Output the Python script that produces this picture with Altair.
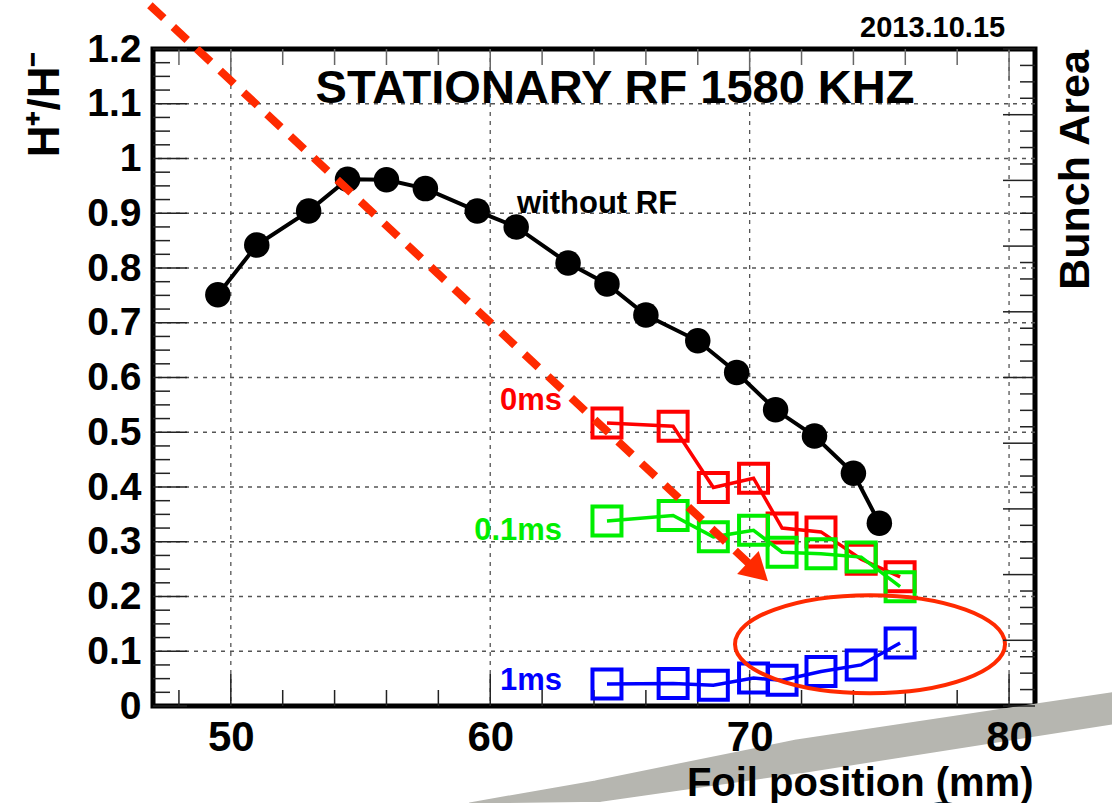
import altair as alt
import pandas as pd

# ---------------- data ----------------
# black "without RF"
x_norf = [49.5, 51.0, 53.0, 54.5, 56.0, 57.5, 59.5, 61.0, 63.0, 64.5, 66.0, 68.0, 69.5, 71.0, 72.5, 74.0, 75.0]
y_norf = [0.751, 0.842, 0.904, 0.962, 0.961, 0.945, 0.904, 0.875, 0.809, 0.771, 0.714, 0.667, 0.609, 0.541, 0.493, 0.425, 0.334]

# square series (same foil positions)
x_sq = [64.5, 67.05, 68.6, 70.15, 71.25, 72.75, 74.3, 75.8]
y_0ms = [0.517, 0.511, 0.399, 0.416, 0.325, 0.318, 0.268, 0.236]
y_01ms = [0.338, 0.348, 0.309, 0.321, 0.281, 0.278, 0.272, 0.218]
y_1ms = [0.040, 0.041, 0.038, 0.051, 0.047, 0.063, 0.075, 0.115]

# axes
x_major = [50, 60, 70, 80]
x_minor = [48, 52, 54, 56, 58, 62, 64, 66, 68, 72, 74, 76, 78]
y_major = [0, 0.1, 0.2, 0.3, 0.4, 0.5, 0.6, 0.7, 0.8, 0.9, 1.0, 1.1, 1.2]
y_grid = [0.1, 0.2, 0.3, 0.4, 0.5, 0.6, 0.7, 0.8, 0.9, 1.0, 1.1]
y_minor = [round(i * 0.025, 3) for i in range(49) if i % 4]
bunch_major = list(range(0, 11))
bunch_minor = [i * 0.25 for i in range(41) if i % 4]

# annotations
arrow_x = [46.88, 70.32]
arrow_y = [1.280, 0.245]
ellipse_x = [74.64]
ellipse_y = [0.113]
band_x = [59.2, 64.2, 71.9, 84.0]
band_y = [-0.177, -0.155, -0.092, -0.004]
band_w = [1, 22, 34, 32]

W, H = 882, 657
FONT = "Liberation Sans"
RED_ANN = "#ff2a00"

xs = alt.Scale(domain=[47, 81], nice=False, zero=False)
ys = alt.Scale(domain=[0, 1.2], nice=False, zero=False)

X = lambda f="x": alt.X(f"{f}:Q", scale=xs)
Y = lambda f="y": alt.Y(f"{f}:Q", scale=ys)

def df(**kw):
    return pd.DataFrame(kw)

# background swoosh (slide decoration)
band = alt.Chart(df(x=band_x, y=band_y, w=band_w)).mark_trail(color="#b6b6b0", clip=False).encode(
    x=X(), y=Y(), size=alt.Size("w:Q", scale=None, legend=None))
blob = alt.Chart(df(x=[77.46], y=[-0.236])).mark_point(
    shape="circle", filled=True, color="#1d3a52", opacity=1, size=4500, clip=False).encode(x=X(), y=Y())

# grid
gdash = dict(color="#555555", strokeWidth=1.3, strokeDash=[4, 5])
grid_v = alt.Chart(df(v=x_major)).mark_rule(**gdash).encode(x=X("v"))
grid_h = alt.Chart(df(v=y_grid)).mark_rule(**gdash).encode(y=Y("v"))

# ticks
tk = dict(color="#222222", strokeWidth=1.5)
t_bot_M = alt.Chart(df(v=x_major)).mark_rule(**tk).encode(x=X("v"), y=alt.value(H), y2=alt.value(H - 32))
t_bot_m = alt.Chart(df(v=x_minor)).mark_rule(**tk).encode(x=X("v"), y=alt.value(H), y2=alt.value(H - 16))
t_top_M = alt.Chart(df(v=x_major)).mark_rule(color="#666666", strokeWidth=1.5).encode(x=X("v"), y=alt.value(0), y2=alt.value(32))
t_top_m = alt.Chart(df(v=x_minor)).mark_rule(color="#666666", strokeWidth=1.5).encode(x=X("v"), y=alt.value(0), y2=alt.value(16))
t_left_M = alt.Chart(df(v=y_major)).mark_rule(**tk).encode(y=Y("v"), x=alt.value(0), x2=alt.value(34))
t_left_m = alt.Chart(df(v=y_minor)).mark_rule(**tk).encode(y=Y("v"), x=alt.value(0), x2=alt.value(17))

def series(xv, yv, color, shape, size, sw, filled):
    d = df(x=xv, y=yv)
    line = alt.Chart(d).mark_line(color=color, strokeWidth=sw).encode(x=X(), y=Y())
    pts = alt.Chart(d).mark_point(shape=shape, size=size, color=color, filled=filled,
                                  opacity=1, strokeWidth=4).encode(x=X(), y=Y())
    return [line, pts]

s_norf = series(x_norf, y_norf, "black", "circle", 650, 4, True)
s_0 = series(x_sq, y_0ms, "#ff0000", "square", 840, 3.5, False)
s_01 = series(x_sq, y_01ms, "#00ee00", "square", 840, 3.5, False)
s_1 = series(x_sq, y_1ms, "#0000ff", "square", 840, 3.5, False)

# red dashed arrow
arrow = alt.Chart(df(x=arrow_x, y=arrow_y)).mark_line(
    color=RED_ANN, strokeWidth=8, strokeDash=[19, 13], clip=False).encode(x=X(), y=Y())
head = alt.Chart(df(x=arrow_x[1:], y=arrow_y[1:])).mark_point(
    shape="triangle-right", filled=True, color=RED_ANN, opacity=1, size=1000, angle=43).encode(x=X(), y=Y())

ELL = ("M-1,0 C-1,-0.2 -0.5523,-0.363 0,-0.363 C0.5523,-0.363 1,-0.2 1,0 "
       "C1,0.2 0.5523,0.363 0,0.363 C-0.5523,0.363 -1,0.2 -1,0 Z")
ellipse = alt.Chart(df(x=ellipse_x, y=ellipse_y)).mark_point(
    shape=ELL, size=270 * 270, filled=False, color=RED_ANN, strokeWidth=4, opacity=1).encode(x=X(), y=Y())

# texts
def txt(t, x, y, color="black", size=31, align="left", baseline="alphabetic", angle=0):
    kw = dict(text=t, color=color, fontSize=size, font=FONT, fontWeight="bold",
              align=align, baseline=baseline, clip=False)
    if angle:
        kw["angle"] = angle
    return alt.Chart(df(x=[x], y=[y])).mark_text(**kw).encode(x=X(), y=Y())

texts = [
    txt("STATIONARY RF 1580 KHZ", 64.81, 1.101, size=47, align="center"),
    txt("2013.10.15", 79.85, 1.222, size=29, align="right"),
    txt("Bunch Area", 82.59, 1.198, size=43, align="right", baseline="middle", angle=270),
    txt("without RF", 61.03, 0.900),
    txt("0ms", 62.77, 0.541, color="#ff0000", align="right"),
    txt("0.1ms", 62.77, 0.303, color="#00ee00", align="right"),
    txt("1ms", 62.77, 0.029, color="#0000ff", align="right"),
]

# axes carrier layer
axes = alt.Chart(df(x=[47.0], y=[0.0])).mark_point(opacity=0).encode(
    x=alt.X("x:Q", scale=xs, axis=alt.Axis(
        values=x_major, format="d", labelFontSize=42, labelFont=FONT, labelFontWeight="bold",
        labelColor="black", labelPadding=11, ticks=False, tickSize=0, domain=False, grid=False,
        title="Foil position (mm)", titleFontSize=40, titleFont=FONT, titleFontWeight="bold",
        titleColor="black", titleAnchor="end", titleAlign="right", titleX=880, titleY=89,
        titleBaseline="alphabetic", zindex=1)),
    y=alt.Y("y:Q", scale=ys, axis=alt.Axis(
        values=y_major, format=".1~f", labelFontSize=39, labelFont=FONT, labelFontWeight="bold",
        labelColor="black", labelPadding=12, ticks=False, tickSize=0, domain=False, grid=False,
        title="H⁺/H⁻", titleFontSize=44, titleFont=FONT, titleFontWeight="bold",
        titleColor="black", titleAngle=270, titleAlign="right", titleBaseline="middle",
        titleX=-108, titleY=2, zindex=1)),
)

main = alt.layer(band, blob, grid_v, grid_h, t_bot_M, t_bot_m, t_top_M, t_top_m, t_left_M, t_left_m,
                 axes, *s_norf, *s_0, *s_01, *s_1, arrow, head, ellipse, *texts)

bs = alt.Scale(domain=[0, 10], nice=False, zero=False)
r_M = alt.Chart(df(v=bunch_major)).mark_rule(**tk).encode(
    y=alt.Y("v:Q", scale=bs, axis=None), x=alt.value(W), x2=alt.value(W - 32))
r_m = alt.Chart(df(v=bunch_minor)).mark_rule(**tk).encode(
    y=alt.Y("v:Q", scale=bs, axis=None), x=alt.value(W), x2=alt.value(W - 15))
right = alt.layer(r_M, r_m)

chart = alt.layer(main, right).resolve_scale(y="independent").properties(
    width=W, height=H,
    autosize=alt.AutoSizeParams(type="none"),
    padding={"left": 153, "top": 49, "right": 77, "bottom": 97},
    background="white",
).configure_view(stroke="black", strokeWidth=5)

chart.save("out.html", embed_options={"renderer": "svg", "actions": False})
